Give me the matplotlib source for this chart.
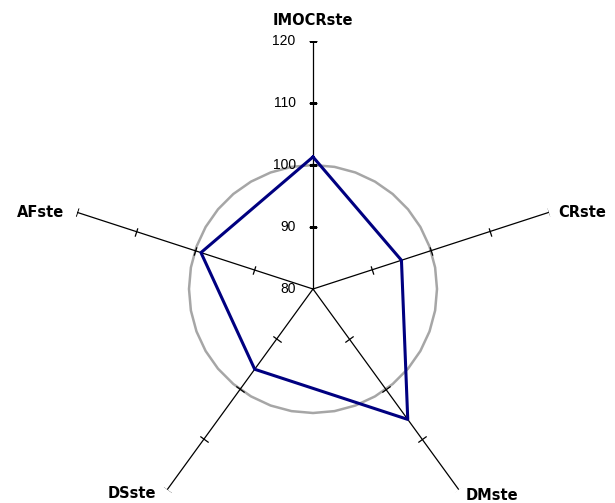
import numpy as np
import matplotlib
matplotlib.use("Agg")
import matplotlib.pyplot as plt
from matplotlib.path import Path

plt.rcParams['font.family'] = ['Liberation Sans', 'DejaVu Sans']

categories = ['IMOCRste', 'CRste', 'DMste', 'DSste', 'AFste']
values = [101.3, 95.0, 106.0, 96.0, 99.0]
ref_value = 100
r_ticks = [80, 90, 100, 110, 120]
# where each category label sits relative to the end of its axis (points)
label_offsets = [(0, 15), (7, 0), (5, -4), (-8, -3), (-9, 0)]
label_ha = ['center', 'left', 'left', 'right', 'right']

n = len(categories)
theta = np.linspace(0, 2 * np.pi, n, endpoint=False)

fig = plt.figure(figsize=(6.15, 5.03), dpi=100)
ax = fig.add_axes([65 / 615, -34 / 503, 496 / 615, 496 / 503], projection='polar')
ax.set_theta_offset(np.pi / 2)
ax.set_theta_direction(-1)
ax.set_ylim(r_ticks[0], r_ticks[-1])
ax.grid(False)
ax.set_xticks([])
ax.set_yticks([])
ax.spines['polar'].set_visible(False)
ax.patch.set_alpha(0)

# grey reference circle
tc = np.linspace(0, 2 * np.pi, 37)
ax.plot(tc, np.full_like(tc, ref_value), color='#a6a6a6', lw=1.8, zorder=1)

# axes with tick marks
for i, t in enumerate(theta):
    ax.plot([t, t], [r_ticks[0], r_ticks[-1]], color='black', lw=0.9, zorder=2)
    # short segment perpendicular to the axis (screen direction)
    a = np.pi / 2 - t
    dx, dy = -np.sin(a), np.cos(a)
    tick = Path([(-dx, -dy), (dx, dy)], [Path.MOVETO, Path.LINETO])
    ax.plot([t] * (len(r_ticks) - 1), r_ticks[1:], ls='none',
            marker=tick, ms=6, mew=0.9, color='black', zorder=2)
    ax.annotate(categories[i], (t, r_ticks[-1]), xytext=label_offsets[i],
                textcoords='offset points', ha=label_ha[i], va='center',
                fontsize=10.5, fontweight='bold', family='DejaVu Sans',
                annotation_clip=False)

for r in r_ticks:
    ax.annotate(str(r), (0, r), xytext=(-12.5, 0), textcoords='offset points',
                ha='right', va='center', fontsize=10, annotation_clip=False)

# data
tv = np.append(theta, theta[0])
vv = np.append(values, values[0])
ax.plot(tv, vv, color='#000080', lw=2.2, zorder=3)

fig.savefig('out.png', dpi=100)
